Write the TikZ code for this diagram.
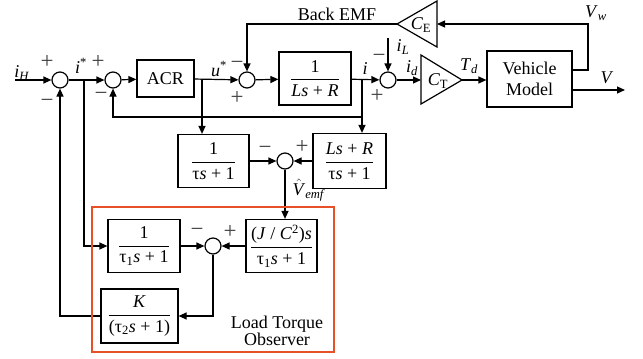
\documentclass[tikz,border=0pt]{standalone}
\usepackage{fix-cm}
\usepackage{amsmath}
\usepackage{fontspec}
\setmainfont{Liberation Serif}
\newfontfamily\tnr{Liberation Serif}
\usetikzlibrary{arrows.meta}
\definecolor{obsred}{RGB}{232,80,40}
\newcommand{\frc}[2]{$\dfrac{\text{\tnr #1}}{\text{\tnr #2}}$}
\newcommand{\vhat}{$\hat{\text{\tnr\textit{V}}}$}
\begin{document}
\begin{tikzpicture}[x=1pt,y=-1pt, line width=1.2pt,
  font=\tnr\fontsize{18}{21}\selectfont,
  sumnode/.style={circle,draw,minimum size=16pt,inner sep=0pt},
  blk/.style={draw,rectangle,inner sep=0pt},
  arr/.style={-{Triangle[length=8pt,width=7pt]}},
  sgn/.style={text=black!75, inner sep=0pt, font=\tnr\fontsize{23}{24}\selectfont},
  lbl/.style={inner sep=0pt}]
\useasboundingbox (0,0) rectangle (643,359);

% summing junctions
\node[sumnode] (s1) at (60,80) {};
\node[sumnode] (s2) at (113,80) {};
\node[sumnode] (s3) at (247,80) {};
\node[sumnode] (s5) at (388,80) {};
\node[sumnode] (s4) at (285,161) {};
\node[sumnode] (s6) at (213,246) {};

% blocks
\node[blk,minimum width=57pt,minimum height=37pt] (acr) at (165.5,78.5) {ACR};
\node[blk,minimum width=72pt,minimum height=53pt] (g1) at (315,78.5) {\frc{1}{\textit{Ls} + \textit{R}}};
\node[blk,minimum width=85pt,minimum height=56pt,align=center,font=\tnr\fontsize{18}{21}\selectfont] (veh) at (529.5,79) {Vehicle\\Model};
\node[blk,minimum width=71pt,minimum height=53pt] (b3) at (213.5,161) {\frc{1}{τ\textit{s} + 1}};
\node[blk,minimum width=73pt,minimum height=55pt] (b4) at (349.5,161) {\frc{\textit{Ls} + \textit{R}}{τ\textit{s} + 1}};
\node[blk,minimum width=72pt,minimum height=53pt] (b5) at (144,246) {\frc{1}{τ\textsubscript{1}\textit{s} + 1}};
\node[blk,minimum width=71pt,minimum height=53pt] (b6) at (281.5,246) {\frc{(\textit{J} / \textit{C}\textsuperscript{2})\textit{s}}{τ\textsubscript{1}\textit{s} + 1}};
\node[blk,minimum width=77pt,minimum height=54pt] (b7) at (139.5,316) {\frc{\textit{K}}{(τ\textsubscript{2}\textit{s} + 1)}};

% gain triangles
\draw (421,55) -- (462,80) -- (421,104) -- cycle;
\coordinate (ctl) at (421,80);
\coordinate (ctr) at (462,80);
\node[lbl] (ctlab) at (438,81) {\textit{C}\textsubscript{T}};
\draw (437,1) -- (437,47) -- (397,24) -- cycle;
\coordinate (cel) at (397,24);
\coordinate (cer) at (437,24);
\node[lbl] (celab) at (421,25) {\textit{C}\textsubscript{E}};

% helper coordinates
\coordinate (iH) at (15,80);
\coordinate (bi) at (84,80);
\coordinate (bu) at (202,80);
\coordinate (b2) at (362,80);
\coordinate (fb) at (362,117);
\coordinate (iLs) at (388,38);
\coordinate (vout) at (625,90);
\coordinate (vw) at (588,70);
\coordinate (vwt) at (588,24);

% connectors
\draw[arr] (iH) -- (s1);
\draw[arr] (s1) -- (s2);
\draw[arr] (s2) -- (acr);
\draw[arr] (acr) -- (s3);
\draw[arr] (s3) -- (g1);
\draw[arr] (g1) -- (s5);
\draw[arr] (s5) -- (ctl);
\draw[arr] (ctr) -- (ctr -| veh.west);
\draw[arr] (vout -| veh.east) -- (vout);
\draw[arr] (veh.east |- vw) -- (vw) -- (vwt) -- (cer);
\draw[arr] (cel) -- (s3 |- cel) -- (s3);
\draw[arr] (iLs) -- (s5);
\draw[arr] (b2) -- (b2 |- b4.north);
\draw[arr] (fb) -- (s2 |- fb) -- (s2);
\draw[arr] (bu) -- (bu |- b3.north);
\draw[arr] (b3) -- (s4);
\draw[arr] (b4) -- (s4);
\draw[arr] (s4) -- (s4 |- b6.north);
\draw[arr] (bi) -- (bi |- b5) -- (b5);
\draw[arr] (b5) -- (s6);
\draw[arr] (b6) -- (s6);
\draw[arr] (s6) -- (s6 |- b7) -- (b7);
\draw[arr] (b7) -- (s1 |- b7) -- (s1);

% observer frame
\draw[obsred, line width=1.2pt] (92,207) rectangle (334,352);
\node[lbl,align=center,font=\tnr\fontsize{18}{15}\selectfont] (lto) at (277,331) {Load Torque\\Observer};

% signal labels
\node[lbl] (liH) at (22,73) {\textit{i}\textsubscript{\textit{H}}};
\node[lbl] (listar) at (81,66) {\textit{i}\textsuperscript{*}};
\node[lbl] (lustar) at (219,69) {\textit{u}\textsuperscript{*}};
\node[lbl] (lbemf) at (337,14) {Back EMF};
\node[lbl] (lVw) at (596,13) {\textit{V}\textsubscript{\textit{w}}};
\node[lbl] (li) at (365,69) {\textit{i}};
\node[lbl] (liL) at (403,47) {\textit{i}\textsubscript{\textit{L}}};
\node[lbl] (lid) at (412,68) {\textit{i}\textsubscript{\textit{d}}};
\node[lbl] (lTd) at (469,66) {\textit{T}\textsubscript{\textit{d}}};
\node[lbl] (lV) at (607,78) {\textit{V}};
\node[lbl] (lVemf) at (309,190) {\vhat\textsubscript{\textit{emf}}};

% signs
\node[sgn] (p1) at (47,62) {+};
\node[sgn] (m1) at (47,103) {−};
\node[sgn] (p2) at (98,62) {+};
\node[sgn] (m2) at (101,96) {−};
\node[sgn] (m3) at (237,65) {−};
\node[sgn] (p3) at (237,98) {+};
\node[sgn] (m5) at (379,58) {−};
\node[sgn] (p5) at (377,96) {+};
\node[sgn] (m4) at (265,150) {−};
\node[sgn] (p4) at (302,147) {+};
\node[sgn] (m6) at (197,232) {−};
\node[sgn] (p6) at (230,232) {+};
\end{tikzpicture}
\end{document}
